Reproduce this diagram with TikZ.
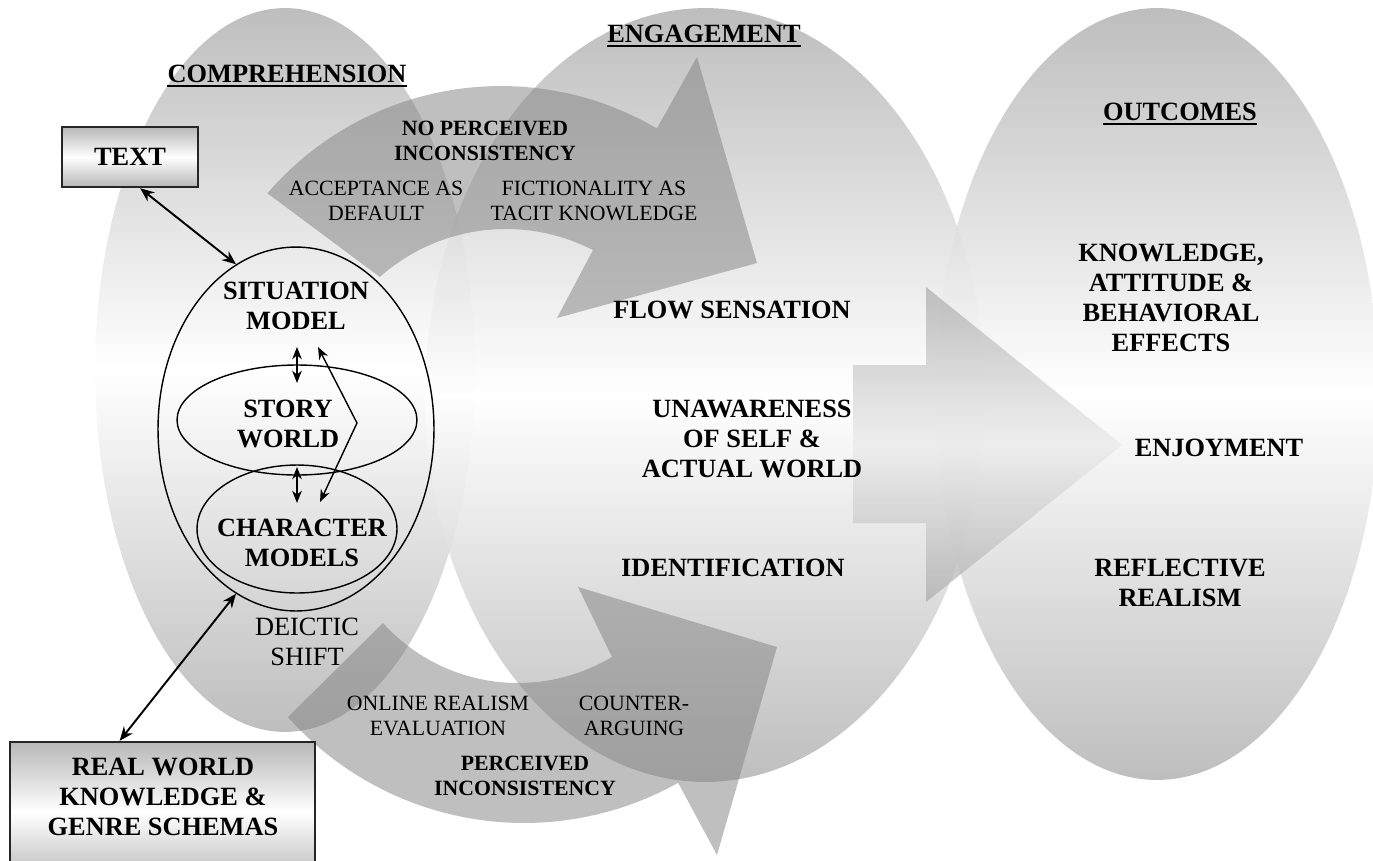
\documentclass[tikz,border=0pt]{standalone}
\usepackage{fontspec}
\setmainfont{Liberation Serif}
\usetikzlibrary{shapes.geometric,arrows.meta,calc}
\begin{document}
\begin{tikzpicture}[x=0.02cm,y=-0.02cm,
  oval/.style={top color=black!30,bottom color=black!30,middle color=white,fill opacity=0.85},
  band/.style={fill=black!50,fill opacity=0.5},
  bigarrow/.style={top color=black!32,bottom color=black!32,middle color=black!8,fill opacity=0.75},
  hd/.style={font=\bfseries\fontsize{15}{17}\selectfont,align=center,inner sep=0pt},
  ttl/.style={font=\bfseries\fontsize{15}{17}\selectfont,inner sep=0pt,anchor=base},
  sm/.style={font=\fontsize{12.4}{14.2}\selectfont,align=center,inner sep=0pt},
  smb/.style={font=\bfseries\fontsize{12.4}{14.2}\selectfont,align=center,inner sep=0pt},
  shiftlbl/.style={font=\fontsize{15}{17}\selectfont,align=center,inner sep=0pt},
  ring/.style={draw=black,line width=0.8pt,ellipse,inner sep=0pt},
  srcbox/.style={draw=black!85,line width=1.4pt,top color=black!28,bottom color=black!28,middle color=white,inner sep=0pt},
  link/.style={line width=1.1pt,{Stealth[length=8pt,width=6.5pt]}-{Stealth[length=8pt,width=6.5pt]}},
  minilink/.style={line width=0.8pt,{Stealth[length=7pt,width=5.5pt]}-{Stealth[length=7pt,width=5.5pt]}},
  uline/.style={line width=1.1pt}
]
\clip (0,0) rectangle (1373,860);

% the three stages
\path[oval] (285,370) ellipse [x radius=3.8cm,y radius=7.24cm];
\path[oval] (705,395) ellipse [x radius=5.6cm,y radius=7.74cm];
\path[oval] (1157,394) ellipse [x radius=4.44cm,y radius=7.72cm];

% upper curved arrow (no perceived inconsistency)
\path[band] (267,193)
  -- plot[domain=-139.3:-59.6,samples=40,variable=\t] ({501+308*cos(\t)},{394+308*sin(\t)})
  -- (697,57) -- (757,263) -- (557,318) -- (593,250)
  -- plot[domain=-62.8:-131.6,samples=40,variable=\t] ({506+190*cos(\t)},{419+190*sin(\t)})
  -- cycle;

% lower curved arrow (perceived inconsistency)
\path[band] (288,717)
  -- plot[domain=138.3:60.8,samples=40,variable=\t] ({524+316*cos(\t)},{507+316*sin(\t)})
  -- (717,855) -- (777,647) -- (578,587) -- (612,657)
  -- plot[domain=58.9:137.9,samples=40,variable=\t] ({518+182*cos(\t)},{501+182*sin(\t)})
  -- cycle;

% block arrow from engagement to outcomes
\path[bigarrow] (853,365) -- (926,365) -- (926,287) -- (1122,445) -- (926,602)
  -- (926,523) -- (853,523) -- cycle;

% titles
\node[ttl] (tcomp) at (287,82) {COMPREHENSION};
\node[ttl] (teng) at (704,42) {ENGAGEMENT};
\node[ttl] (tout) at (1180,120) {OUTCOMES};
\foreach \n in {tcomp,teng,tout}
  \draw[uline] ([yshift=-2.2pt]\n.base west) -- ([yshift=-2.2pt]\n.base east);

% situation model and its parts
\node[ring,minimum width=5.52cm,minimum height=7.28cm] (sit) at (296,429) {};
\node[ring,minimum width=4.8cm,minimum height=2.2cm] (story) at (297,420) {};
\node[ring,minimum width=4.0cm,minimum height=2.56cm] (char) at (297,529) {};
\node[hd] (sitlbl) at (296,306) {SITUATION\\MODEL};
\node[hd] (storylbl) at (288,424) {STORY\\WORLD};
\node[hd] (charlbl) at (302,543) {CHARACTER\\MODELS};

\coordinate (a1) at (297,347);
\coordinate (a2) at (297,383);
\coordinate (a3) at (297,467);
\coordinate (a4) at (297,503);
\coordinate (b1) at (318,347);
\coordinate (b2) at (357,423);
\coordinate (b3) at (320,502);
\draw[minilink] (a1) -- (a2);
\draw[minilink] (a3) -- (a4);
\draw[minilink] (b1) -- (b2) -- (b3);

% sources
\node[srcbox,minimum width=2.72cm,minimum height=1.2cm,font=\bfseries\fontsize{15}{17}\selectfont] (textbox) at (130,157) {TEXT};
\node[srcbox,minimum width=6.1cm,minimum height=2.8cm] (rw) at (162.5,812) {};
\node[hd] (rwlbl) at (163,797) {REAL WORLD\\KNOWLEDGE \&\\GENRE SCHEMAS};
\draw[link] (textbox.-72) -- (sit.110);
\draw[link] (sit.250) -- (rw.121);

% comprehension labels
\node[shiftlbl] (deictic) at (307,642) {DEICTIC\\SHIFT};

% curved arrow labels
\node[smb] (noinc) at (485,140.5) {NO PERCEIVED\\INCONSISTENCY};
\node[sm] (accept) at (376,200.5) {ACCEPTANCE AS\\DEFAULT};
\node[sm] (fiction) at (594,200.5) {FICTIONALITY AS\\TACIT KNOWLEDGE};
\node[sm] (online) at (438,716) {ONLINE REALISM\\EVALUATION};
\node[sm] (counter) at (634,716) {COUNTER-\\ARGUING};
\node[smb] (inc) at (525,776) {PERCEIVED\\INCONSISTENCY};

% engagement labels
\node[hd] (flow) at (732,310) {FLOW SENSATION};
\node[hd] (unaware) at (752,439) {UNAWARENESS\\OF SELF \&\\ACTUAL WORLD};
\node[hd] (ident) at (733,568) {IDENTIFICATION};

% outcome labels
\node[hd] (effects) at (1171,298) {KNOWLEDGE,\\ATTITUDE \&\\BEHAVIORAL\\EFFECTS};
\node[hd] (enjoy) at (1219,448) {ENJOYMENT};
\node[hd] (reflect) at (1180,583) {REFLECTIVE\\REALISM};
\end{tikzpicture}
\end{document}
